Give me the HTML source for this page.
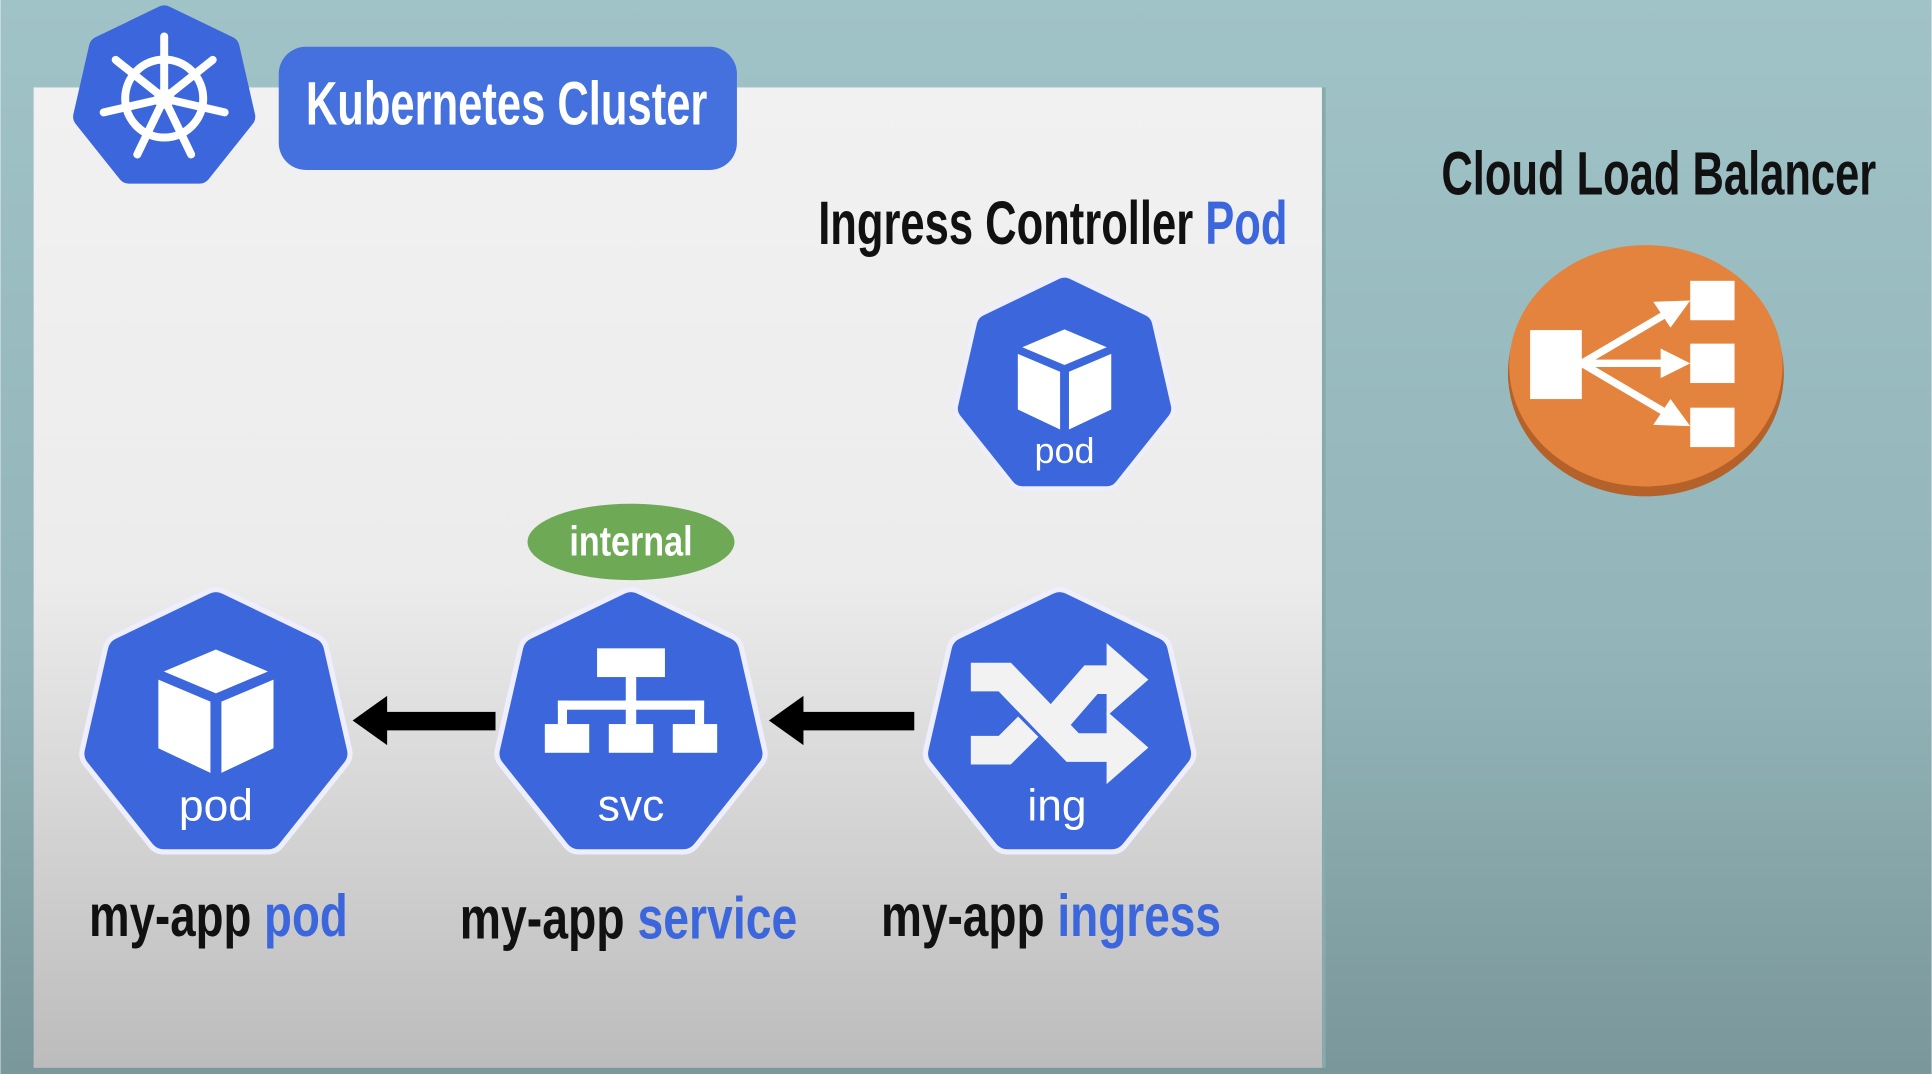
<!DOCTYPE html>
<html><head><meta charset="utf-8"><style>
html,body{margin:0;padding:0;width:1932px;height:1074px;overflow:hidden}
svg{display:block}
text{font-family:"Liberation Sans",sans-serif;font-weight:bold}
</style></head><body>
<svg width="1932" height="1074" viewBox="0 0 1568 872" xmlns="http://www.w3.org/2000/svg">
<defs>
<linearGradient id="bg" x1="0" y1="0" x2="0" y2="1"><stop offset="0" stop-color="#a0c3c7"/><stop offset="0.6" stop-color="#93b5b9"/><stop offset="1" stop-color="#7a979b"/></linearGradient>
<linearGradient id="pn" x1="0" y1="0" x2="0" y2="1"><stop offset="0" stop-color="#f1f1f1"/><stop offset="0.5" stop-color="#ececec"/><stop offset="1" stop-color="#bcbcbc"/></linearGradient>
<polygon id="hep" points="0,-92 71.9,-57.4 89.7,20.5 39.9,82.9 -39.9,82.9 -89.7,20.5 -71.9,-57.4"/>
<g id="cube">
<polygon points="0,-42 38,-26 0,-10 -38,-26" fill="#fff"/>
<polygon points="-42,-20 -4,-4 -4,48 -42,30" fill="#fff"/>
<polygon points="42,-20 4,-4 4,48 42,30" fill="#fff"/>
</g>
</defs>
<rect width="1568" height="872" fill="url(#bg)"/>
<rect x="27" y="71" width="1047" height="796" fill="url(#pn)"/>
<rect x="1073" y="71" width="3" height="796" fill="#8aa"/>

<!-- k8s logo -->
<g transform="translate(133,80) scale(0.72)">
<use href="#hep" fill="#3b66dc" stroke="#3b66dc" stroke-width="26" stroke-linejoin="round"/>
<g stroke="#fff" fill="none" stroke-width="9" stroke-linecap="round">
<circle r="44"/><circle r="7" fill="#fff"/>
<g id="sp"><line x1="0" y1="0" x2="0" y2="-70"/></g>
<use href="#sp" transform="rotate(51.43)"/>
<use href="#sp" transform="rotate(102.86)"/>
<use href="#sp" transform="rotate(154.29)"/>
<use href="#sp" transform="rotate(205.71)"/>
<use href="#sp" transform="rotate(257.14)"/>
<use href="#sp" transform="rotate(308.57)"/>
</g>
</g>
<rect x="226" y="38" width="372" height="100" rx="22" fill="#4471de"/>
<text x="248" y="101" font-size="50" fill="#fff" textLength="326" lengthAdjust="spacingAndGlyphs">Kubernetes Cluster</text>

<text x="664" y="198" font-size="50" fill="#111" textLength="381" lengthAdjust="spacingAndGlyphs">Ingress Controller <tspan fill="#3b66dc">Pod</tspan></text>
<text x="1170" y="158" font-size="50" fill="#111" textLength="353" lengthAdjust="spacingAndGlyphs">Cloud Load Balancer</text>

<!-- small pod -->
<g transform="translate(864,314) scale(0.86)">
<use href="#hep" fill="#3b66dc" stroke="#eef" stroke-width="30" stroke-linejoin="round"/>
<use href="#hep" fill="#3b66dc" stroke="#3b66dc" stroke-width="22" stroke-linejoin="round"/>
<g transform="translate(0,-10) scale(1.05)"><use href="#cube"/></g>
<text x="0" y="72" font-size="34" fill="#fff" text-anchor="middle" style="font-weight:normal">pod</text>
</g>

<!-- internal -->
<ellipse cx="512" cy="440" rx="84" ry="31" fill="#6ea955"/>
<text x="512" y="451" font-size="34" fill="#fff" text-anchor="middle" textLength="100" lengthAdjust="spacingAndGlyphs">internal</text>

<!-- my-app pod -->
<g transform="translate(175,590) scale(1.06)">
<use href="#hep" fill="#3b66dc" stroke="#eef" stroke-width="30" stroke-linejoin="round"/>
<use href="#hep" fill="#3b66dc" stroke="#3b66dc" stroke-width="22" stroke-linejoin="round"/>
<g transform="translate(0,-15) scale(1.05)"><use href="#cube"/></g>
<text x="0" y="72" font-size="34" fill="#fff" text-anchor="middle" style="font-weight:normal">pod</text>
</g>

<!-- svc -->
<g transform="translate(512,590) scale(1.06)">
<use href="#hep" fill="#3b66dc" stroke="#eef" stroke-width="30" stroke-linejoin="round"/>
<use href="#hep" fill="#3b66dc" stroke="#3b66dc" stroke-width="22" stroke-linejoin="round"/>
<g fill="#fff">
<rect x="-26" y="-60" width="52" height="22"/>
<rect x="-4" y="-38" width="8" height="22"/>
<rect x="-56" y="-20" width="112" height="7"/>
<rect x="-56" y="-20" width="7" height="18"/><rect x="-4" y="-20" width="8" height="18"/><rect x="49" y="-20" width="7" height="18"/>
<rect x="-66" y="-2" width="34" height="22"/><rect x="-17" y="-2" width="34" height="22"/><rect x="32" y="-2" width="34" height="22"/>
</g>
<text x="0" y="72" font-size="34" fill="#fff" text-anchor="middle" style="font-weight:normal">svc</text>
</g>

<!-- ing -->
<g transform="translate(860,590) scale(1.06)">
<use href="#hep" fill="#3b66dc" stroke="#eef" stroke-width="30" stroke-linejoin="round"/>
<use href="#hep" fill="#3b66dc" stroke="#3b66dc" stroke-width="22" stroke-linejoin="round"/>
<g stroke="#f2f2f2" stroke-width="22" fill="none" stroke-linejoin="miter">
<path d="M-68,-38 H-42 L10,16 H40"/>
<path d="M-2,-6 L24,-36 H40"/>
<path d="M-68,18 H-42 L-24,0"/>
</g>
<g fill="#f2f2f2">
<polygon points="36,-64 68,-36 36,-8"/>
<polygon points="36,-12 68,16 36,44"/>
</g>
<text x="-2" y="72" font-size="34" fill="#fff" text-anchor="middle" style="font-weight:normal">ing</text>
</g>

<!-- arrows -->
<rect x="310" y="578" width="92" height="15" fill="#000"/>
<polygon points="286,585 314,565 314,605" fill="#000"/>
<rect x="648" y="578" width="94" height="15" fill="#000"/>
<polygon points="624,585 652,565 652,605" fill="#000"/>

<text x="72" y="760" font-size="48" fill="#111" textLength="210" lengthAdjust="spacingAndGlyphs">my-app <tspan fill="#3b66dc">pod</tspan></text>
<text x="373" y="762" font-size="48" fill="#111" textLength="274" lengthAdjust="spacingAndGlyphs">my-app <tspan fill="#3b66dc">service</tspan></text>
<text x="715" y="760" font-size="48" fill="#111" textLength="276" lengthAdjust="spacingAndGlyphs">my-app <tspan fill="#3b66dc">ingress</tspan></text>

<!-- load balancer -->
<ellipse cx="1336" cy="303" rx="112" ry="100" fill="#b5612a"/>
<ellipse cx="1336" cy="297" rx="111" ry="98" fill="#e4833d"/>
<g fill="#fff">
<rect x="1242" y="268" width="42" height="56"/>
<rect x="1372" y="228" width="36" height="32"/>
<rect x="1372" y="279" width="36" height="32"/>
<rect x="1372" y="331" width="36" height="32"/>
</g>
<g stroke="#fff" stroke-width="6">
<line x1="1284" y1="295" x2="1352" y2="255"/>
<line x1="1284" y1="295" x2="1352" y2="295"/>
<line x1="1284" y1="295" x2="1352" y2="335"/>
</g>
<g fill="#fff">
<polygon points="1372,244 1342,245 1356,266"/>
<polygon points="1372,295 1348,283 1348,307"/>
<polygon points="1372,346 1356,324 1342,345"/>
</g>
</svg>
</body></html>
